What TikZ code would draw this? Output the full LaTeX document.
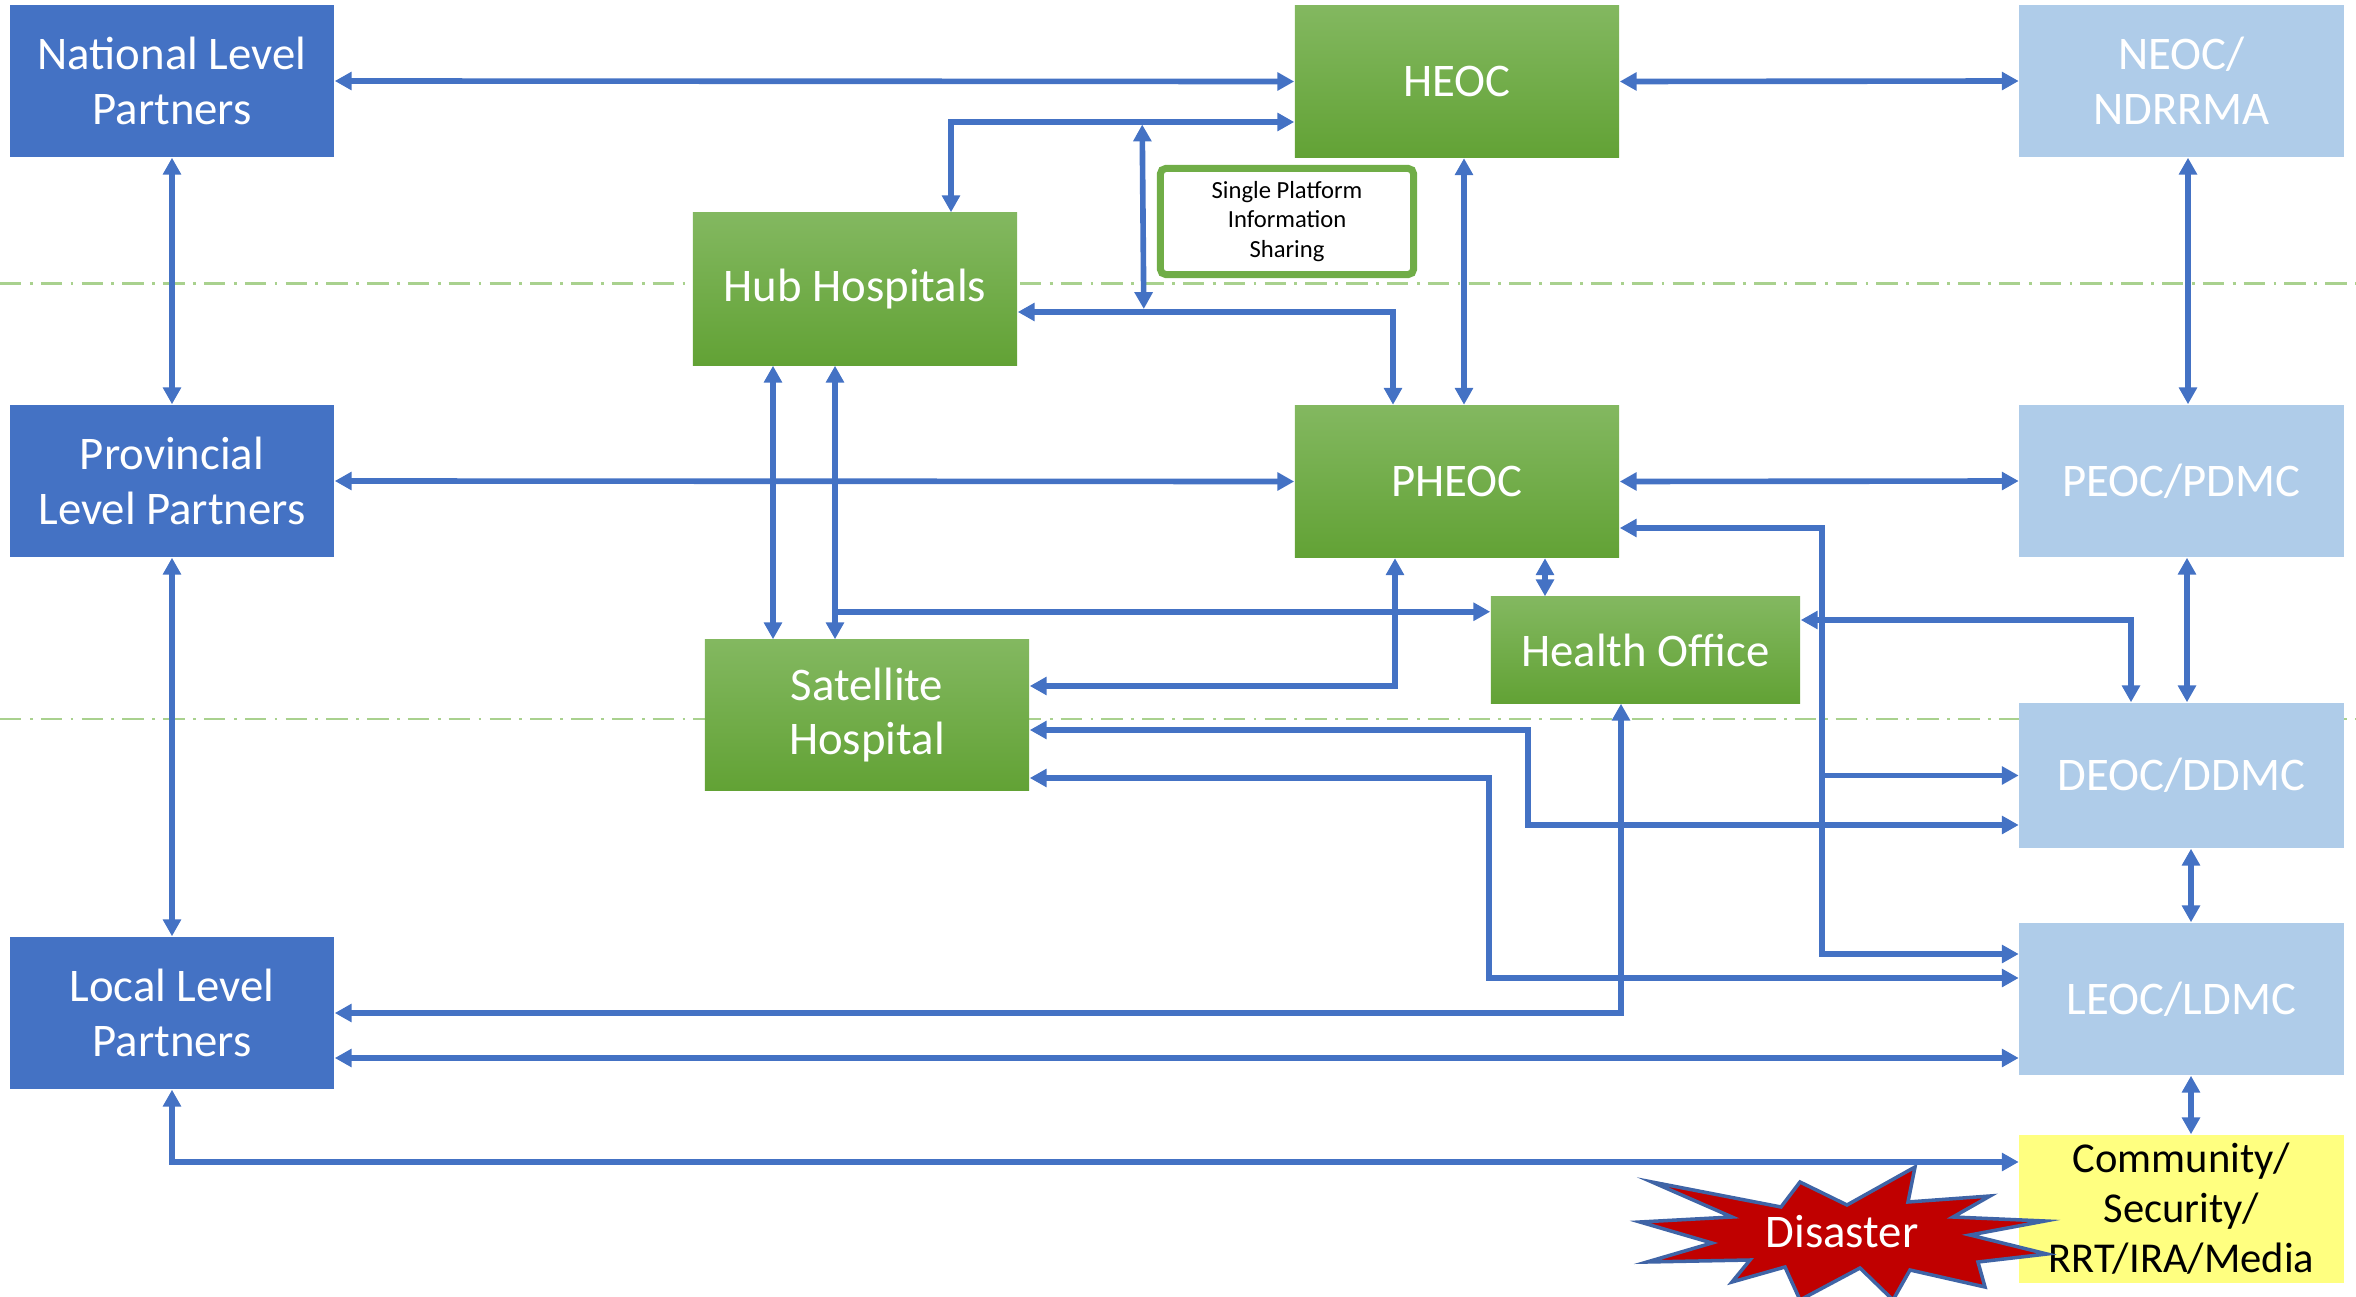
\documentclass[tikz,border=0pt]{standalone}
\usepackage{fontspec}
\setmainfont{Carlito}
\usetikzlibrary{arrows.meta,calc}

\definecolor{boxblue}{HTML}{4472C4}
\definecolor{lineblue}{HTML}{4472C4}
\definecolor{paleblue}{HTML}{AFCCE9}
\definecolor{greentop}{HTML}{83B860}
\definecolor{greenmid}{HTML}{71AE45}
\definecolor{greenbot}{HTML}{62A235}
\definecolor{platgreen}{HTML}{70AD47}
\definecolor{commyellow}{HTML}{FFFF80}
\definecolor{levelgreen}{HTML}{A9D18E}
\definecolor{burstred}{HTML}{C00000}
\definecolor{burstedge}{HTML}{3F64A6}

\tikzset{
  box/.style={minimum width=3.24cm, minimum height=1.52cm, inner sep=0pt, align=center,
    text=white, font=\fontsize{13.3}{15.6}\selectfont},
  partner/.style={box, fill=boxblue},
  health/.style={box, top color=greentop, middle color=greenmid, bottom color=greenbot},
  ops/.style={box, fill=paleblue},
  link/.style={draw=lineblue, line width=1.6pt, >={Triangle[length=4.8pt,width=5pt]}, <->},
  level/.style={draw=levelgreen, line width=0.8pt, dash pattern=on 6.1pt off 2.4pt on 0.8pt off 2.3pt},
}

\begin{document}
\begin{tikzpicture}[x=0.01cm, y=-0.01cm]
    \useasboundingbox (0,0) rectangle (2356,1297);

    \draw[level] (0,283.5) -- (2356,283.5);
    \draw[level] (0,719) -- (2356,719);

    \node[partner] (nat) at (172,81) {National Level\\Partners};
    \node[partner] (prov) at (172,481) {Provincial\\Level Partners};
    \node[partner] (loc) at (172,1013) {Local Level\\Partners};

    \node[health] (heoc) at (1457,81.5) {HEOC};
    \node[health] (pheoc) at (1457,481.5) {PHEOC};
    \node[health] (hub) at (855,289) {Hub Hospitals};
    \node[health, minimum height=1.5cm] (sat) at (867,715) {Satellite\\Hospital};
    \node[health, minimum width=3.09cm, minimum height=1.06cm] (ho) at (1645.5,650) {Health Office};

    \node[ops] (neoc) at (2181.5,81) {NEOC/\\NDRRMA};
    \node[ops] (peoc) at (2181.5,481) {PEOC/PDMC};
    \node[ops, minimum height=1.45cm] (deoc) at (2181.5,775.5) {DEOC/DDMC};
    \node[ops] (leoc) at (2181.5,999) {LEOC/LDMC};
    \node[box, fill=commyellow, text=black, minimum height=1.48cm,
      font=\fontsize{12.1}{14.2}\selectfont] (comm) at (2181.5,1209) {Community/\\Security/\\RRT/IRA/Media};

    \node[draw=platgreen, line width=2pt, rounded corners=1.5pt, fill=white, inner sep=0pt,
      minimum width=2.53cm, minimum height=1.06cm, align=center,
      font=\fontsize{7}{8.4}\selectfont] (platform) at (1287,221.5) {Single Platform\\Information\\Sharing};

    \draw[fill=burstred, draw=burstedge, line width=1pt] (1652,1182) -- (1781,1207) -- (1800,1182)
      -- (1847,1205) -- (1915,1167) -- (1908,1202) -- (1990,1196) -- (1953,1217) -- (2045,1221)
      -- (1970,1235) -- (2047,1254) -- (1978,1262) -- (1985,1287) -- (1910,1270) -- (1893,1300)
      -- (1860,1268) -- (1800,1300) -- (1785,1267) -- (1732,1282) -- (1750,1260) -- (1647,1262)
      -- (1712,1243) -- (1640,1222) -- (1732,1217) -- cycle;
    \node[text=white, font=\fontsize{13.3}{15.6}\selectfont] (dis) at (1842,1232) {Disaster};

    % levels
    \draw[link] (nat.east) -- (heoc.west);
    \draw[link] (heoc.east) -- (neoc.west);
    \draw[link] (prov.east) -- (pheoc.west);
    \draw[link] (pheoc.east) -- (peoc.west);
    \draw[link] (nat.south) -- (prov.north);
    \draw[link] (prov.south) -- (loc.north);
    \draw[link] ($(heoc.south)+(7,0)$) -- ($(pheoc.north)+(7,0)$);
    \draw[link] ($(neoc.south)+(6.5,0)$) -- ($(peoc.north)+(6.5,0)$);
    \draw[link] ($(peoc.south)+(5.5,0)$) -- ($(deoc.north)+(5.5,0)$);
    \draw[link] ($(deoc.south)+(9.5,0)$) -- ($(leoc.north)+(9.5,0)$);
    \draw[link] ($(leoc.south)+(9.5,0)$) -- ($(comm.north)+(9.5,0)$);

    % hospitals
    \draw[link] ($(heoc.west)+(0,40.5)$) -| ($(hub.north)+(96,0)$);
    \draw[link] ($(hub.east)+(0,23)$) -| ($(pheoc.north)+(-64,0)$);
    \coordinate (sptop) at ($(heoc.west)+(-152,43)$);
    \coordinate (spbot) at ($(hub.east)+(126,20)$);
    \draw[link] (sptop) -- (spbot);
    \draw[link] ($(hub.south)+(-82,0)$) -- ($(sat.north)+(-94,0)$);
    \draw[link] ($(hub.south)+(-20,0)$) -- ($(sat.north)+(-32,0)$);
    \coordinate (hubtap) at ($(hub.south)+(-20,246)$);
    \draw[link, ->] (hubtap) -- (hubtap -| ho.west);
    \draw[link] ($(sat.east)+(0,-29)$) -| ($(pheoc.south)+(-62,0)$);
    \draw[link] ($(pheoc.south)+(88,0)$) -- ($(ho.north)+(-100.5,0)$);
    \draw[link] ($(ho.east)+(0,-30)$) -| ($(deoc.north)+(-50.5,0)$);

    % district and local
    \draw[link] ($(pheoc.east)+(0,46.5)$) -- ++(202,0) coordinate (pheoctap) |- ($(leoc.west)+(0,-45)$);
    \draw[link, ->] (pheoctap |- deoc.west) -- (deoc.west);
    \draw[link] ($(sat.east)+(0,15)$) -- ++(498,0) |- ($(deoc.west)+(0,49.5)$);
    \draw[link] ($(sat.east)+(0,63)$) -- ++(459,0) |- ($(leoc.west)+(0,-21)$);
    \draw[link] ($(ho.south)+(-24.5,0)$) |- (loc.east);
    \coordinate (loctap) at ($(loc.east)+(0,45)$);
    \draw[link] (loctap) -- (loctap -| leoc.west);
    \draw[link] (loc.south) |- ($(comm.west)+(0,-47)$);
\end{tikzpicture}
\end{document}
